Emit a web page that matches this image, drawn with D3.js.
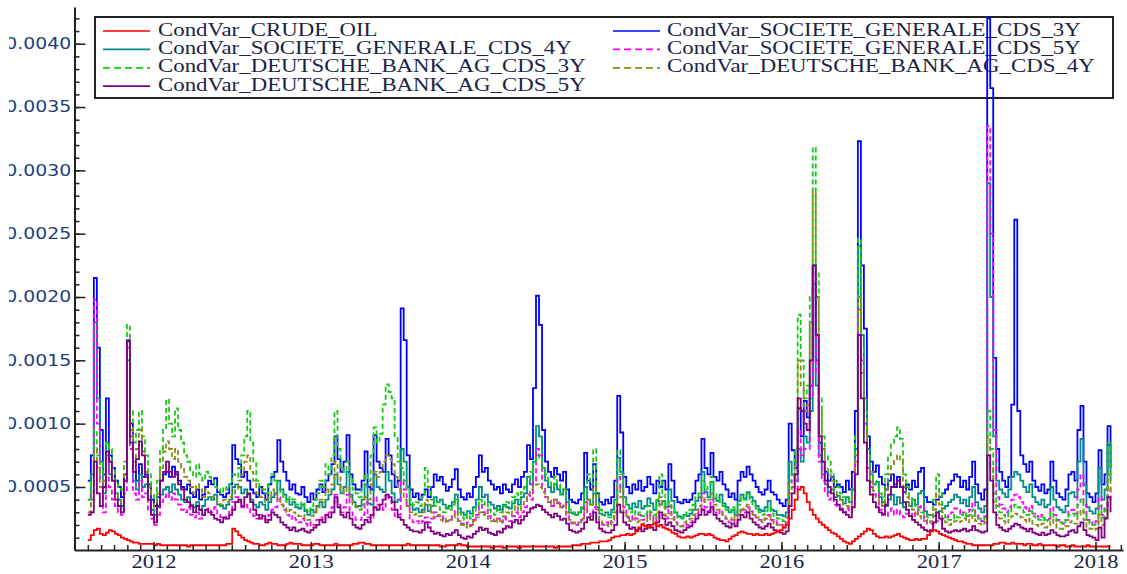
<!DOCTYPE html>
<html><head><meta charset="utf-8">
<script src="https://cdn.jsdelivr.net/npm/d3@7"></script>
<style>html,body{margin:0;padding:0;background:#fff;} svg{display:block;}</style>
</head><body>
<svg id="chart" width="1127" height="574"></svg>
<script>
// Weekly conditional variances, in units of 1e-5, first week starting 2011-08-01
const UNIT = 1e-5;
const startDate = new Date(2011, 7, 1);

const crudeOil = [
8,12,16,17,13,12,14,16,15,13, 12,10,9,8,7,6,6,5,5,5,
5,5,4,5,4,4,4,4,4,4, 4,4,4,3,4,4,4,4,4,4,
4,4,4,4,4,4,5,5,17,15, 12,10,8,7,6,5,5,4,4,5,
6,5,5,4,4,4,5,6,5,5, 5,4,4,4,4,5,5,4,4,4,
4,4,5,4,4,4,4,4,5,5, 6,6,5,5,4,4,4,4,4,4,
4,4,4,4,4,4,5,4,4,4, 4,4,4,4,4,4,4,3,3,4,
4,4,4,5,4,4,3,3,3,3, 3,3,3,3,2,3,3,3,2,3,
3,3,3,2,3,3,3,3,3,3, 3,3,3,3,3,2,3,3,3,3,
3,4,4,4,5,5,5,6,6,6, 7,7,7,8,10,11,11,12,12,13,
12,13,15,18,20,19,18,20,21,19, 20,18,17,16,14,13,11,10,10,11,
10,11,12,13,13,12,13,12,10,9, 8,8,7,9,11,12,14,15,14,13,
13,12,13,12,12,13,12,13,14,15, 16,18,20,25,32,40,48,50,45,38,
32,28,25,22,20,18,16,14,13,11, 9,7,6,5,7,9,11,13,15,17,
16,13,11,10,10,11,10,11,12,13, 11,10,9,8,8,9,8,9,9,12,
15,16,15,13,12,11,10,9,8,7, 7,6,5,5,4,4,4,4,4,4,
4,5,5,6,6,5,5,6,5,5, 5,4,5,5,4,4,5,4,4,4,
4,4,3,4,4,3,3,4,3,3, 3,3,4,3,3,3,3,3,3,3,3];

const sg3y = [
55,75,215,160,95,60,120,75,65,55, 50,42,60,165,100,62,55,68,58,60,
52,40,35,42,55,60,62,58,66,60, 55,50,48,52,45,42,48,40,44,50,
55,52,57,46,44,42,45,52,83,72, 68,58,62,55,48,45,42,50,45,40,
52,58,62,87,70,62,55,48,52,45, 44,50,42,38,45,40,48,52,46,55,
60,68,90,72,62,70,91,60,52,48, 48,55,78,50,48,91,70,65,62,88,
75,60,50,55,191,166,75,48,42,45, 40,44,48,42,50,60,55,58,52,47,
50,56,64,48,42,40,45,42,50,58, 75,62,65,55,52,48,50,45,52,48,
46,52,56,50,58,62,83,72,128,201, 178,95,70,62,58,65,60,55,62,48,
40,38,37,40,45,77,55,48,68,45, 38,36,40,37,42,55,122,93,58,50,
45,52,48,55,47,50,58,52,45,55, 50,55,48,68,55,42,38,37,40,38,
40,45,55,60,88,65,60,77,58,55, 62,52,48,42,45,40,55,62,58,66,
60,55,50,46,44,48,55,46,44,40, 37,35,40,100,79,65,112,90,118,105,
130,225,150,85,70,62,55,58,50,52, 50,46,55,48,62,110,323,225,175,90,
70,62,67,58,52,48,55,60,50,58, 50,46,52,48,55,50,62,65,42,38,
38,36,40,42,45,48,52,55,60,58, 50,55,48,58,70,52,45,40,48,420,
365,152,80,62,55,50,58,115,261,110, 75,68,62,70,55,50,47,52,45,48,
70,55,45,42,40,48,60,62,55,95, 114,70,45,42,38,45,79,52,60,98,65];

const sg4y = [
40,60,180,120,70,45,85,60,55,45, 40,35,55,150,90,55,48,60,50,52,
40,32,28,34,44,48,50,46,52,48, 44,40,38,42,36,34,38,32,35,40,
42,40,44,36,35,33,36,40,50,52, 50,45,48,44,40,36,34,38,36,32,
38,42,45,55,48,44,40,36,38,34, 33,36,31,28,32,30,35,38,34,40,
44,48,60,52,45,50,62,44,38,35, 35,40,52,37,36,60,50,48,46,62,
55,45,38,40,80,70,50,36,32,33, 30,32,36,31,35,42,38,40,36,33,
35,38,44,33,30,28,31,29,34,40, 50,42,44,38,36,33,35,32,36,34,
33,37,40,36,42,45,58,52,70,98, 90,65,55,50,46,52,48,44,48,38,
30,29,28,30,33,50,40,36,45,34, 29,28,30,28,32,40,73,62,42,36,
33,37,34,39,33,35,41,37,32,39, 36,39,34,48,39,30,27,26,28,27,
29,32,39,42,62,46,42,54,41,39, 44,37,34,30,32,28,39,44,41,46,
42,39,35,32,31,34,39,32,31,28, 28,27,30,70,60,55,80,70,90,85,
110,210,130,75,60,52,46,48,42,43, 40,37,42,38,48,80,240,170,120,80,
60,52,54,42,38,35,40,44,36,42, 37,34,38,35,40,36,45,47,31,28,
28,27,30,31,33,35,38,40,44,42, 37,40,35,42,50,38,33,30,35,290,
200,90,55,48,45,42,48,58,62,60, 55,50,46,52,42,38,36,40,34,36,
50,40,34,32,30,35,45,46,42,70, 88,52,34,31,29,33,65,40,48,83,55];

const sg5y = [
30,45,198,100,55,30,70,50,40,35, 30,28,45,160,80,45,40,55,42,45,
32,25,20,28,38,42,45,40,45,40, 36,32,30,34,28,26,30,25,28,32,
33,30,34,28,26,25,28,32,38,42, 38,34,36,34,30,27,25,28,27,24,
28,32,34,42,36,32,28,25,27,24, 22,25,21,19,22,20,24,26,24,28,
30,34,44,36,30,34,44,30,26,24, 24,28,38,26,25,42,36,34,32,44,
40,32,27,28,55,48,35,25,22,23, 21,23,26,22,25,30,27,28,25,23,
24,27,32,23,21,20,22,20,24,28, 36,30,32,27,25,23,25,22,26,24,
23,27,30,26,30,34,44,40,55,80, 75,50,42,38,35,40,37,34,37,28,
22,21,20,22,24,38,30,27,34,25, 21,20,22,20,24,30,58,48,34,26,
24,27,25,28,24,26,30,27,23,28, 26,28,25,35,28,22,20,19,21,20,
22,24,29,31,45,34,31,40,30,28, 32,27,25,22,24,21,28,32,30,34,
31,28,26,24,23,25,28,24,23,21, 20,19,22,55,50,48,95,75,80,80,
120,220,140,70,55,45,40,42,36,35, 33,30,33,30,40,70,190,150,100,65,
50,44,45,32,29,27,30,33,28,32, 28,26,29,27,30,27,34,35,24,21,
21,20,23,24,25,26,29,30,33,32, 28,30,27,32,38,29,25,23,27,335,
250,95,42,36,33,30,34,40,44,42, 38,34,31,35,29,27,25,28,24,25,
34,28,24,22,21,24,31,32,29,48, 60,36,24,22,20,23,42,28,33,50,38];

const db3y = [
40,55,95,75,60,70,85,80,65,55, 50,48,70,178,110,85,95,110,90,75,
60,45,40,55,80,95,119,100,90,112, 95,85,75,70,62,58,68,60,55,62,
58,55,50,48,45,50,48,52,60,58, 65,75,90,110,85,70,55,50,48,45,
52,60,55,48,45,40,38,42,40,36, 35,38,32,30,35,40,45,55,50,68,
60,75,110,80,65,62,70,58,48,45, 42,50,60,55,75,97,85,92,115,131,
125,120,90,70,65,55,48,40,36,38, 35,42,65,50,40,35,38,32,30,34,
32,36,40,30,26,24,28,25,30,34, 40,36,38,32,30,28,32,30,35,38,
36,42,45,40,46,50,55,62,70,75, 72,65,60,55,50,58,52,45,48,40,
32,30,28,30,34,45,60,52,80,45, 32,28,27,26,30,38,79,60,40,35,
30,32,28,30,27,29,35,30,28,40, 60,45,35,38,32,28,26,25,28,30,
32,36,42,45,55,48,50,58,45,40, 38,35,32,30,34,30,36,42,40,45,
38,35,33,30,28,31,34,29,27,25, 24,23,26,55,60,80,186,150,120,130,
200,318,220,120,90,75,70,62,55,50, 45,42,40,38,50,90,246,160,110,75,
62,55,50,45,42,60,75,85,90,97, 88,60,50,42,38,35,32,30,28,26,
28,40,60,45,30,26,24,25,28,26, 28,30,26,28,32,27,25,24,26,110,
80,45,35,30,28,26,30,34,36,34, 32,30,28,31,27,25,24,26,23,24,
30,26,23,22,21,24,28,29,27,36, 40,30,23,21,20,22,35,26,32,85,60];

const db4y = [
30,40,80,65,50,55,75,70,55,45, 40,38,60,165,95,70,80,95,78,62,
50,38,32,45,65,78,86,80,72,80, 70,65,58,55,50,45,52,48,42,48,
45,42,40,38,36,40,38,42,45,48, 55,60,70,75,62,55,45,42,40,38,
42,48,44,40,36,33,30,32,30,28, 27,28,25,24,27,30,34,40,38,48,
45,52,70,58,48,45,50,42,36,34, 32,36,42,40,52,62,58,62,70,75,
72,68,58,48,45,40,35,30,28,29, 27,30,40,36,30,26,28,24,22,25,
24,26,30,23,20,18,21,19,23,26, 30,28,29,25,23,22,25,23,27,30,
28,32,35,31,36,40,44,48,50,52, 50,46,42,40,36,40,38,34,35,30,
24,22,21,22,25,32,40,36,50,32, 24,21,20,19,22,28,50,42,30,27,
23,25,22,23,21,23,27,24,22,30, 42,34,27,29,25,22,20,19,22,24,
25,28,32,35,42,38,40,45,36,32, 30,28,25,24,27,24,29,33,32,36,
30,28,26,24,22,25,27,23,21,20, 19,18,20,45,50,70,150,130,110,115,
180,283,200,110,80,65,60,55,48,44, 40,36,35,33,42,75,200,140,95,65,
54,47,42,38,35,48,60,68,72,75, 70,50,42,35,32,29,27,25,23,22,
23,32,45,36,25,22,20,21,23,22, 23,25,22,24,27,23,21,20,22,90,
65,38,28,25,23,21,24,27,29,28, 26,24,22,25,21,20,19,21,18,19,
24,21,18,17,17,19,22,23,21,28, 32,24,18,17,16,17,28,20,26,60,45];

const db5y = [
28,30,70,45,35,50,78,70,55,40, 35,30,55,166,85,62,72,86,75,58,
40,28,22,35,55,62,70,62,58,62, 52,48,40,38,35,30,35,32,28,32,
30,28,25,24,22,26,25,28,32,38, 40,35,42,45,38,32,28,25,27,22,
24,30,28,26,22,20,18,16,18,15, 16,17,15,14,16,18,20,24,22,28,
26,30,42,34,28,26,30,25,20,18, 17,20,24,22,28,34,32,36,40,44,
42,38,32,26,24,20,18,16,15,15, 14,16,22,18,15,13,14,12,11,13,
12,14,16,12,10,9,11,10,13,15, 18,16,17,14,13,12,15,14,17,19,
18,22,24,21,24,27,30,33,34,36, 35,32,30,28,26,29,27,24,25,21,
16,15,14,15,17,22,26,24,30,22, 17,15,14,14,16,20,36,30,22,20,
17,18,16,17,15,17,20,18,16,22, 30,25,20,22,19,16,15,14,16,18,
19,22,25,28,32,28,30,34,28,25, 23,21,19,18,21,19,24,28,26,30,
25,22,20,18,17,19,21,18,16,15, 14,13,15,35,45,60,120,110,100,95,
150,225,170,90,70,55,50,45,40,36, 32,30,28,26,34,60,170,120,85,55,
44,38,34,30,28,36,44,50,52,55, 50,38,32,27,24,22,20,18,16,15,
16,22,30,25,17,15,14,15,16,15, 16,17,15,16,19,16,15,14,15,75,
55,30,20,18,16,15,17,19,21,20, 18,17,15,17,14,13,12,14,12,13,
16,14,12,11,11,12,15,16,14,19, 22,16,12,11,10,8,18,10,25,42,30];

const seriesNames = [
  "CondVar_CRUDE_OIL", "CondVar_SOCIETE_GENERALE_CDS_3Y",
  "CondVar_SOCIETE_GENERALE_CDS_4Y", "CondVar_SOCIETE_GENERALE_CDS_5Y",
  "CondVar_DEUTSCHE_BANK_AG_CDS_3Y", "CondVar_DEUTSCHE_BANK_AG_CDS_4Y",
  "CondVar_DEUTSCHE_BANK_AG_CDS_5Y"];
const seriesValues = [crudeOil, sg3y, sg4y, sg5y, db3y, db4y, db5y];
const seriesColors = ["#ff0000", "#0000ff", "#008b8b", "#ff00ff", "#14cc14", "#8b8b1a", "#800080"];
const seriesDashed = [false, false, false, true, true, true, false];
const drawOrder = [1, 2, 3, 4, 5, 6, 0];

const yMajorTicks = [0.0005, 0.0010, 0.0015, 0.0020, 0.0025, 0.0030, 0.0035, 0.0040];
const yearLabels = [2012, 2013, 2014, 2015, 2016, 2017, 2018];

const svg = d3.select("#chart");
const x = d3.scaleTime().domain([new Date(2011, 6, 1), new Date(2018, 2, 6)]).range([74.5, 1123]);
const y = d3.scaleLinear().domain([0, 0.00429]).range([550.3, 7]);
const dateAt = i => d3.timeDay.offset(startDate, 7 * i);

const textColor = "#1b2446";

// Legend (drawn beneath the lines)
const lg = svg.append("g");
lg.append("rect").attr("x", 95).attr("y", 17).attr("width", 1018).attr("height", 81)
  .attr("fill", "#fff").attr("stroke", "#222").attr("stroke-width", 2);
seriesNames.forEach((name, k) => {
  const col = k % 2, row = Math.floor(k / 2);
  const lx = col === 0 ? 103 : 613;
  const tx = col === 0 ? 158 : 667;
  const by = 35.5 + row * 18.4;
  lg.append("line").attr("x1", lx).attr("x2", lx + 47).attr("y1", by - 4.5).attr("y2", by - 4.5)
    .attr("stroke", seriesColors[k]).attr("stroke-width", 1.7)
    .attr("stroke-dasharray", seriesDashed[k] ? "7,4" : null);
  lg.append("text").attr("transform", `translate(${tx},${by}) scale(1.27,1)`)
    .attr("font-family", "Liberation Serif, Times New Roman, serif").attr("font-size", 18)
    .attr("fill", textColor).text(name);
});

// Series
const line = d3.line()
  .x((d, i) => x(dateAt(i)))
  .y(d => y(d * UNIT))
  .curve(d3.curveStepAfter);
const lines = svg.append("g");
drawOrder.forEach(k => {
  lines.append("path").datum(seriesValues[k])
    .attr("d", line).attr("fill", "none")
    .attr("stroke", seriesColors[k]).attr("stroke-width", 1.8)
    .attr("stroke-dasharray", seriesDashed[k] ? "5,3" : null);
});

// X axis: monthly minor ticks, yearly labelled ticks (pointing inward)
const xMinor = d3.axisBottom(x)
  .tickValues(d3.timeMonth.range(new Date(2011, 7, 1), new Date(2018, 2, 7)))
  .tickSizeInner(-5).tickSizeOuter(0).tickFormat("");
const gxm = svg.append("g").attr("transform", "translate(0,550)").call(xMinor);
gxm.select(".domain").attr("stroke", "#222").attr("stroke-width", 2);
gxm.selectAll(".tick line").attr("stroke", "#222").attr("stroke-width", 1.5);

const xMajor = d3.axisBottom(x)
  .tickValues(yearLabels.map(yr => new Date(yr, 0, 1)))
  .tickSizeInner(-8).tickSizeOuter(0).tickPadding(5)
  .tickFormat(d3.timeFormat("%Y"));
const gxM = svg.append("g").attr("transform", "translate(0,550)").call(xMajor);
gxM.select(".domain").remove();
gxM.selectAll(".tick line").attr("stroke", "#222").attr("stroke-width", 1.5);
gxM.selectAll(".tick text")
  .attr("font-family", "Liberation Serif, Times New Roman, serif").attr("font-size", 18)
  .attr("fill", textColor).attr("transform", "scale(1.25,1)");

// Y axis
svg.append("clipPath").attr("id", "ylabclip").append("rect")
  .attr("x", 9).attr("y", 0).attr("width", 200).attr("height", 574);
const yMinor = d3.axisLeft(y).tickValues(d3.range(1, 43).map(k => k * 0.0001))
  .tickSizeInner(-5).tickSizeOuter(0).tickFormat("");
const gym = svg.append("g").attr("transform", "translate(74.5,0)").call(yMinor);
gym.select(".domain").attr("stroke", "#222").attr("stroke-width", 2);
gym.selectAll(".tick line").attr("stroke", "#222").attr("stroke-width", 1.5);

const yMajor = d3.axisLeft(y).tickValues(yMajorTicks)
  .tickSizeInner(-11).tickSizeOuter(0).tickPadding(2.5).tickFormat(d3.format(".4f"));
const gyM = svg.append("g").attr("clip-path", "url(#ylabclip)")
  .append("g").attr("transform", "translate(74.5,0)").call(yMajor);
gyM.select(".domain").remove();
gyM.selectAll(".tick line").attr("stroke", "#222").attr("stroke-width", 1.5);
gyM.selectAll(".tick text")
  .attr("font-family", "DejaVu Sans, Verdana, sans-serif").attr("font-size", 15)
  .attr("fill", "#22407c").attr("transform", "scale(1.26,1)");
</script>
</body></html>
